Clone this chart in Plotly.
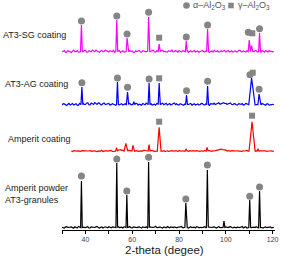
import plotly.graph_objects as go

# ---------------- data ----------------
# baseline noise, typed on a 1-degree grid and on the half-degree points between
grid_full = list(range(30, 121))
half_full = [t + 0.5 for t in grid_full]
grid_red = list(range(34, 121))
half_red = [t + 0.5 for t in grid_red]

sg_base = [0.8, 2.0, 0.5, 1.6, 0.2, 2.4, 1.0, 0.4, 1.8, 1.2,
           2.2, 0.6, 1.4, 2.6, 0.9, 1.7, 0.3, 2.1, 1.1, 1.9,
           0.7, 1.5, 2.3, 0.6, 1.2, 0.2, 1.8, 0.9, 1.4, 2.0,
           1.6, 0.5, 1.1, 2.1, 0.4, 1.5, 0.8, 1.9, 1.3, 2.4,
           0.6, 1.7, 1.0, 2.2, 1.4, 0.5, 1.8, 2.5, 0.9, 1.3,
           2.0, 0.7, 1.5, 1.1, 0.3, 1.9, 1.2, 0.6, 1.6, 1.0,
           2.1, 0.8, 1.4, 0.4, 1.7, 2.3, 1.0, 0.5, 1.8, 1.2,
           0.7, 2.0, 1.3, 0.5, 1.6, 1.0, 2.2, 0.8, 1.4, 1.9,
           1.5, 2.6, 0.9, 1.7, 1.1, 0.4, 1.3, 2.0, 0.6, 1.2,
           0.8]
sg_half = [1.5, 0.3, 1.9, 0.7, 1.3, 1.0, 2.2, 0.6, 0.9, 2.0,
           0.4, 1.8, 0.8, 1.2, 2.3, 0.5, 1.6, 0.7, 2.4, 0.6,
           1.9, 0.9, 0.4, 1.7, 2.1, 1.0, 0.5, 2.2, 0.8, 1.1,
           0.3, 1.9, 1.6, 0.6, 2.0, 0.9, 1.4, 0.5, 2.1, 0.8,
           1.8, 0.7, 2.3, 0.9, 0.6, 2.0, 1.1, 0.7, 2.1, 0.5,
           1.2, 1.9, 0.6, 2.2, 1.5, 0.7, 2.0, 1.4, 0.4, 1.8,
           0.9, 1.6, 2.2, 1.1, 0.6, 1.4, 1.9, 0.8, 1.0, 2.1,
           1.5, 0.6, 1.8, 1.1, 0.7, 2.3, 0.9, 1.6, 0.5, 1.2,
           2.0, 0.8, 1.9, 0.6, 1.7, 2.1, 0.5, 1.1, 1.8, 0.7,
           1.4]
ag_base = [0.5, 1.7, 0.2, 2.2, 1.0, 0.6, 1.9, 0.3, 1.4, 2.4,
           1.1, 2.8, 0.7, 2.0, 3.0, 1.2, 2.5, 0.8, 2.6, 1.4,
           2.2, 0.9, 1.6, 0.4, 2.0, 1.3, 0.5, 1.8, 1.0, 2.3,
           1.2, 0.6, 2.1, 1.5, 0.4, 1.7, 2.5, 0.8, 1.9, 1.0,
           0.5, 1.6, 0.9, 2.3, 1.4, 0.7, 2.0, 1.2, 2.6, 1.8,
           0.8, 1.5, 0.4, 1.9, 1.1, 2.2, 1.3, 0.6, 1.7, 1.0,
           2.0, 0.7, 1.4, 0.3, 1.8, 2.4, 1.6, 2.8, 1.9, 3.0,
           2.2, 1.5, 2.6, 1.0, 1.8, 0.6, 1.4, 2.0, 0.9, 1.7,
           1.2, 0.5, 1.9, 1.1, 2.3, 0.7, 1.5, 0.4, 1.8, 1.0,
           1.3]
ag_half = [1.9, 0.8, 1.3, 0.6, 2.1, 1.4, 0.5, 2.2, 0.8, 1.2,
           2.4, 0.9, 2.6, 1.1, 1.8, 2.7, 0.9, 2.1, 1.0, 2.5,
           0.6, 2.0, 1.1, 2.3, 0.7, 1.9, 1.4, 0.6, 2.2, 0.8,
           1.7, 2.3, 0.5, 1.0, 2.1, 0.8, 1.3, 2.2, 0.6, 1.5,
           2.1, 0.7, 1.8, 0.9, 2.4, 1.3, 0.6, 2.2, 1.0, 0.7,
           2.0, 0.6, 1.6, 0.8, 2.1, 0.5, 1.9, 1.2, 0.8, 2.2,
           0.9, 1.8, 0.6, 2.0, 1.3, 1.0, 2.5, 1.4, 2.6, 2.1,
           1.3, 2.4, 1.1, 2.0, 0.7, 1.9, 1.2, 0.6, 2.2, 1.0,
           0.8, 2.0, 0.6, 1.5, 0.9, 2.1, 0.6, 1.7, 0.5, 1.6,
           0.9]
red_base = [1.0, 1.5, 0.6, 1.2, 0.8, 1.4,
            1.1, 0.7, 1.6, 1.0, 1.3, 0.5, 1.2, 1.8, 0.9, 1.4,
            1.0, 1.6, 0.8, 1.3, 1.9, 2.4, 2.0, 1.5, 2.8, 1.4,
            1.1, 0.8, 1.5, 1.0, 1.3, 2.0, 1.2, 0.7, 1.6, 1.2,
            0.9, 1.4, 1.7, 1.0, 0.6, 1.3, 1.0, 1.5, 0.8, 1.2,
            1.4, 0.9, 1.1, 1.6, 0.7, 1.2, 1.5, 1.0, 1.3, 0.8,
            1.2, 1.6, 1.0, 1.4, 0.8, 1.1, 1.8, 2.4, 2.9, 2.6,
            2.0, 1.5, 1.0, 1.3, 0.7, 1.2, 1.0, 1.4, 1.1, 1.6,
            2.2, 2.0, 1.8, 1.2, 0.8, 1.4, 1.0, 1.3, 0.6, 1.2,
            1.0]
red_half = [0.6, 1.2, 1.0, 0.7, 1.5, 0.9,
            1.4, 1.1, 0.8, 1.5, 0.7, 1.3, 1.0, 0.6, 1.5, 0.9,
            1.3, 0.7, 1.5, 1.1, 2.2, 1.8, 2.3, 1.1, 1.9, 0.9,
            1.4, 1.2, 0.7, 1.5, 1.1, 1.6, 0.8, 1.3, 1.0, 0.7,
            1.3, 0.8, 1.2, 1.5, 1.1, 0.7, 1.4, 1.0, 1.3, 0.7,
            1.0, 1.3, 0.8, 1.2, 1.4, 0.9, 1.1, 1.5, 0.8, 1.3,
            0.9, 1.2, 1.5, 0.7, 1.3, 1.5, 2.1, 2.7, 2.5, 2.2,
            1.3, 1.2, 1.5, 0.9, 1.1, 1.4, 0.8, 1.2, 1.5, 1.0,
            1.9, 1.6, 1.3, 1.0, 1.3, 0.9, 1.5, 0.8, 1.1, 1.4,
            0.8]
pw_base = [1.2, 0.4, 1.8, 0.9, 1.5, 0.3, 1.1, 2.0, 0.6, 1.4,
           0.8, 1.9, 0.5, 1.3, 1.0, 2.1, 0.4, 1.6, 0.9, 1.2,
           1.8, 0.6, 1.4, 0.7, 1.9, 1.1, 0.5, 1.5, 1.0, 2.0,
           0.6, 1.3, 0.9, 1.7, 0.4, 1.2, 1.8, 0.7, 1.4, 1.0,
           2.2, 0.8, 1.5, 0.5, 1.1, 1.9, 0.7, 1.3, 1.6, 0.6,
           1.2, 2.0, 0.9, 1.4, 0.5, 1.7, 1.0, 0.6, 1.5, 1.2,
           0.8, 1.9, 0.5, 1.3, 1.0, 1.6, 0.4, 1.8, 1.1, 0.7,
           1.5, 0.9, 1.9, 0.6, 1.2, 1.4, 0.8, 2.0, 1.1, 0.5,
           1.6, 0.9, 1.3, 1.8, 0.7, 1.2, 0.6, 1.5, 1.0, 1.7,
           0.9]
pw_half = [0.7, 1.6, 1.0, 1.3, 0.8, 1.7, 0.5, 1.2, 1.9, 0.9,
           1.4, 0.6, 1.5, 0.8, 1.6, 0.9, 1.3, 0.5, 1.7, 0.8,
           1.1, 1.5, 0.7, 1.8, 1.0, 1.3, 1.6, 0.7, 1.4, 0.9,
           1.5, 0.8, 1.4, 1.0, 1.6, 0.9, 0.5, 1.7, 0.9, 1.5,
           1.0, 1.4, 0.8, 1.6, 0.7, 1.2, 1.5, 0.9, 0.8, 1.4,
           1.7, 0.8, 1.2, 0.9, 1.6, 0.8, 1.3, 1.8, 0.7, 1.0,
           1.4, 0.7, 1.5, 0.8, 1.4, 1.0, 1.2, 0.9, 1.5, 1.3,
           0.8, 1.6, 1.0, 1.4, 0.7, 1.1, 1.5, 0.6, 1.7, 1.3,
           0.8, 1.5, 0.9, 1.1, 1.6, 0.7, 1.3, 0.8, 1.4, 0.6,
           1.2]

# diffraction peaks: position (2-theta), height, half-width
sg_pk_pos = [38.3, 53.4, 57.8, 67.0, 71.5, 83.1, 92.2, 110.0, 111.0, 114.4]
sg_pk_h = [27.6, 32.6, 14.6, 35.6, 8.6, 11.6, 23.6, 12.6, 7.0, 19.6]
sg_pk_w = [0.4, 0.4, 0.4, 0.4, 0.4, 0.4, 0.4, 0.45, 0.5, 0.4]

ag_pk_pos = [38.5, 53.7, 58.0, 60.7, 67.2, 71.5, 83.2, 92.2, 111.0, 114.2]
ag_pk_h = [18.6, 23.6, 13.6, 4.0, 22.6, 22.6, 10.6, 19.6, 27.6, 11.6]
ag_pk_w = [0.4, 0.4, 0.5, 0.4, 0.4, 0.4, 0.4, 0.4, 1.2, 0.5]

red_pk_pos = [53.3, 57.3, 60.3, 67.2, 71.5, 83.0, 92.0, 111.2, 113.8]
red_pk_h = [4.4, 8.8, 6.8, 7.4, 24.8, 3.0, 4.8, 30.4, 3.5]
red_pk_w = [0.4, 0.8, 0.4, 0.4, 0.8, 0.5, 0.4, 1.3, 0.4]

pw_pk_pos = [38.3, 53.4, 57.7, 67.0, 82.9, 92.1, 99.2, 110.2, 114.4]
pw_pk_h = [47.5, 65.5, 33.5, 66.5, 25.5, 58.5, 7.5, 28.5, 37.5]
pw_pk_w = [0.35, 0.35, 0.35, 0.35, 0.4, 0.4, 0.4, 0.4, 0.4]

# vertical offsets of the stacked patterns
offsets = {"sg": 177.4, "ag": 124.4, "red": 77.9, "pw": 1.5}

# phase markers: alpha (circles) and gamma (squares), heights above each pattern's baseline
sg_alpha_x = [38.3, 53.4, 57.8, 67.0, 83.1, 92.2, 109.6, 114.4]
sg_alpha_y = [31.6, 36.6, 18.6, 40.3, 15.6, 27.6, 20.3, 23.9]
sg_gamma_x = [71.5, 111.3]
sg_gamma_y = [14.9, 19.3]

ag_alpha_x = [38.5, 53.7, 58.0, 67.2, 83.2, 92.2, 110.3, 114.2]
ag_alpha_y = [22.9, 27.6, 18.3, 26.6, 14.9, 24.3, 30.9, 16.3]
ag_gamma_x = [71.5, 111.5]
ag_gamma_y = [27.3, 32.9]

red_gamma_x = [71.5, 111.2]
red_gamma_y = [30.4, 36.4]

pw_alpha_x = [38.3, 53.4, 57.7, 67.0, 82.9, 92.1, 110.2, 114.4]
pw_alpha_y = [52.5, 69.5, 37.5, 71.2, 29.5, 63.5, 32.2, 41.5]

labels = ["AT3-SG coating", "AT3-AG coating", "Amperit coating", "Amperit powder<br>AT3-granules"]


def pattern(grids, bases, pos, h, w, off):
    pts = []
    for grid, base in zip(grids, bases):
        pts += [(t, v) for t, v in zip(grid, base)
                if all(abs(t - p) >= ww for p, ww in zip(pos, w))]
    for p, hh, ww in zip(pos, h, w):
        pts += [(p - ww, 1.0), (p, hh), (p + ww, 1.0)]
    pts.sort()
    return [a for a, _ in pts], [b + off for _, b in pts]


fig = go.Figure()
series = [
    ("sg", [grid_full, half_full], [sg_base, sg_half], sg_pk_pos, sg_pk_h, sg_pk_w, "#ff00ff"),
    ("ag", [grid_full, half_full], [ag_base, ag_half], ag_pk_pos, ag_pk_h, ag_pk_w, "#0000ff"),
    ("red", [grid_red, half_red], [red_base, red_half], red_pk_pos, red_pk_h, red_pk_w, "#ff0000"),
    ("pw", [grid_full, half_full], [pw_base, pw_half], pw_pk_pos, pw_pk_h, pw_pk_w, "#000000"),
]
for key, g, b, p, h, w, col in series:
    xs, ys = pattern(g, b, p, h, w, offsets[key])
    fig.add_trace(go.Scatter(x=xs, y=ys, mode="lines",
                             line=dict(color=col, width=1.2), hoverinfo="skip"))

mk = "#858585"
for ax, ay, key in [(sg_alpha_x, sg_alpha_y, "sg"), (ag_alpha_x, ag_alpha_y, "ag"),
                    (pw_alpha_x, pw_alpha_y, "pw")]:
    fig.add_trace(go.Scatter(x=ax, y=[v + offsets[key] for v in ay], mode="markers",
                             marker=dict(symbol="circle", size=7, color=mk)))
for gx, gy, key in [(sg_gamma_x, sg_gamma_y, "sg"), (ag_gamma_x, ag_gamma_y, "ag"),
                    (red_gamma_x, red_gamma_y, "red")]:
    fig.add_trace(go.Scatter(x=gx, y=[v + offsets[key] for v in gy], mode="markers",
                             marker=dict(symbol="square", size=6, color=mk)))

# ---------------- layout ----------------
L, R, T, B, W, H = 62, 6, 0, 30, 281, 260
PW, PH = W - L - R, H - T - B


def px(xp):
    return (xp - L) / PW


def py(yp):
    return (PH - (yp - T)) / PH


font = "Liberation Sans, Arial, sans-serif"
ann = []
label_pos = [(1, 35), (3, 84), (6, 139), (3, 194)]
for txt, (lx, ly) in zip(labels, label_pos):
    ann.append(dict(text=txt, xref="paper", yref="paper", x=px(lx), y=py(ly),
                    xanchor="left", yanchor="middle", showarrow=False, align="left",
                    font=dict(family=font, size=9, color="#1a1a1a")))
ann.append(dict(text="2-theta (degee)", xref="paper", yref="paper", x=px(164), y=py(250),
                xanchor="center", yanchor="middle", showarrow=False,
                font=dict(family=font, size=11.5, color="#1a1a1a")))
ann.append(dict(text="α–Al<sub>2</sub>O<sub>3</sub>", xref="paper", yref="paper",
                x=px(191), y=py(6), xanchor="left", yanchor="middle", showarrow=False,
                font=dict(family=font, size=9, color="#555555")))
ann.append(dict(text="γ–Al<sub>2</sub>O<sub>3</sub>", xref="paper", yref="paper",
                x=px(235.5), y=py(6), xanchor="left", yanchor="middle", showarrow=False,
                font=dict(family=font, size=9, color="#555555")))

shapes = [
    dict(type="circle", xref="paper", yref="paper", xsizemode="pixel", ysizemode="pixel",
         xanchor=px(186.5), yanchor=py(5.5), x0=-3.3, x1=3.3, y0=-3.3, y1=3.3,
         fillcolor=mk, line=dict(width=0)),
    dict(type="rect", xref="paper", yref="paper", xsizemode="pixel", ysizemode="pixel",
         xanchor=px(231), yanchor=py(5.5), x0=-2.8, x1=2.8, y0=-2.8, y1=2.8,
         fillcolor=mk, line=dict(width=0)),
]

fig.update_layout(
    width=W, height=H, margin=dict(l=L, r=R, t=T, b=B, pad=0),
    paper_bgcolor="white", plot_bgcolor="white", showlegend=False,
    annotations=ann, shapes=shapes,
    xaxis=dict(range=[30, 121], showgrid=False, zeroline=False, showline=True,
               linecolor="black", linewidth=1, ticks="outside", ticklen=3,
               tickcolor="black", tick0=40, dtick=20,
               minor=dict(dtick=10, ticks="outside", ticklen=3, tickcolor="black"),
               tickfont=dict(family=font, size=7, color="#444444")),
    yaxis=dict(range=[0, PH], visible=False, fixedrange=True),
)

fig.write_html("out.html")
